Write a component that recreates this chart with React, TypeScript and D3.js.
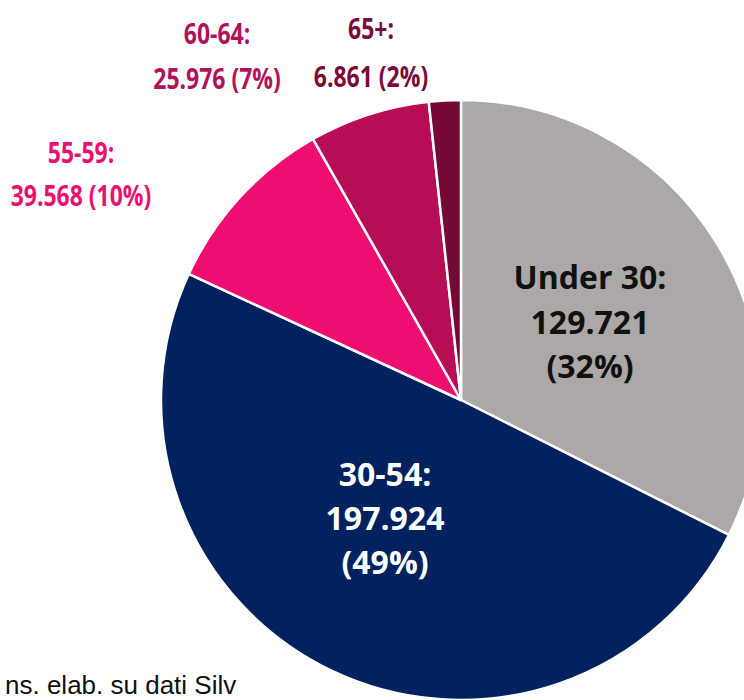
import React from "react";
import * as d3 from "d3";

const categories = ["Under 30", "30-54", "55-59", "60-64", "65+"];
const values = [129721, 197924, 39568, 25976, 6861];
const valueLabels = ["129.721", "197.924", "39.568", "25.976", "6.861"];
const percentLabels = ["32%", "49%", "10%", "7%", "2%"];
const sliceColors = ["#aba8a7", "#01215f", "#ee0e72", "#b70d56", "#760a36"];
const labelColors = ["#111111", "#ffffff", "#ea1070", "#b0135a", "#7a0c3c"];

const W = 744;
const H = 700;
const CX = 461;
const CY = 400;
const R = 300;

// label layout: centre x, first baseline, line gap, inside slice?
const labelLayout: { x: number; y: number; gap: number; inside: boolean }[] = [
  { x: 590, y: 289, gap: 44.5, inside: true },
  { x: 385, y: 486, gap: 44, inside: true },
  { x: 81, y: 163, gap: 43, inside: false },
  { x: 217, y: 44, gap: 45, inside: false },
  { x: 371, y: 39, gap: 48, inside: false },
];

export default function App() {
  const pie = d3
    .pie<number>()
    .sort(null)
    .value((d) => d);
  const arcs = pie(values);
  const arc = d3
    .arc<d3.PieArcDatum<number>>()
    .innerRadius(0)
    .outerRadius(R);

  return (
    <svg
      width={W}
      height={H}
      style={{ position: "absolute", left: 0, top: 0, background: "#fff" }}
    >
      <g transform={`translate(${CX},${CY})`}>
        {arcs.map((a, i) => (
          <path
            key={categories[i]}
            d={arc(a) || ""}
            fill={sliceColors[i]}
            stroke="#ffffff"
            strokeWidth={2.5}
            strokeLinejoin="round"
          />
        ))}
      </g>
      {categories.map((c, i) => {
        const L = labelLayout[i];
        const lines = L.inside
          ? [`${c}:`, valueLabels[i], `(${percentLabels[i]})`]
          : [`${c}:`, `${valueLabels[i]} (${percentLabels[i]})`];
        const sx = L.inside ? 1.0 : 0.82;
        return (
          <text
            key={c}
            transform={`translate(${L.x},0) scale(${sx},1)`}
            textAnchor="middle"
            fill={labelColors[i]}
            fontFamily="'Open Sans', sans-serif"
            fontWeight={700}
            fontSize={L.inside ? 32 : 28}
          >
            {lines.map((t, j) => (
              <tspan key={j} x={0} y={L.y + j * L.gap}>
                {t}
              </tspan>
            ))}
          </text>
        );
      })}
      <text
        x={5}
        y={694}
        fontFamily="'Liberation Sans', Arial, sans-serif"
        fontSize={26}
        fill="#111"
      >
        ns. elab. su dati Silv
      </text>
    </svg>
  );
}
